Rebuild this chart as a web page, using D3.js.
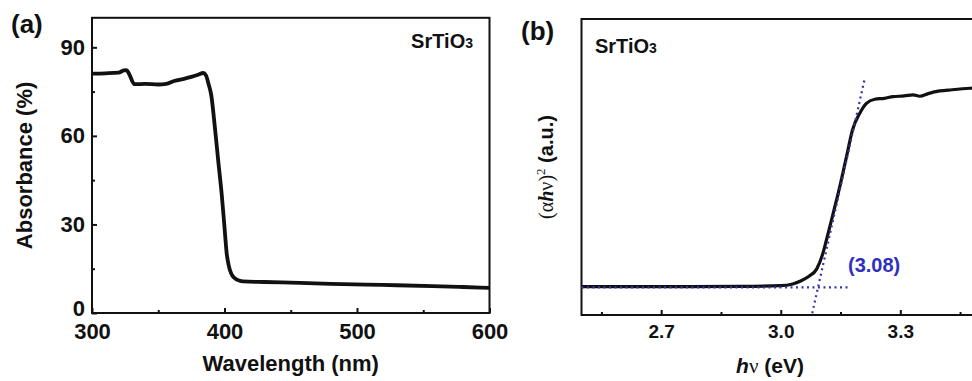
<!DOCTYPE html>
<html>
<head>
<meta charset="utf-8">
<script src="https://cdn.jsdelivr.net/npm/d3@7"></script>
<style>
  body { margin: 0; background: #fff; }
  svg text { font-family: "Liberation Sans", Arial, sans-serif; font-weight: bold; fill: #111; }
  .frame { fill: none; stroke: #111; stroke-width: 2; }
  .tick line { stroke: #111; stroke-width: 2; }
</style>
</head>
<body>
<div id="chart"></div>
<script>
// panel (a) - UV-vis absorbance
var wavelength = [300, 310, 320, 324, 326, 328, 332, 340, 350, 356, 362, 370, 375, 380, 384, 386, 388, 390, 392.8, 395.3,
                  397.9, 400, 401.7, 403, 404.2, 406, 408, 411, 414, 430, 457, 480, 507, 530, 557, 580, 600];
var absorbance = [81.1, 81.2, 81.4, 82.2, 82.3, 81, 77.5, 77.6, 77.4, 77.6, 78.6, 79.4, 80, 80.7, 81.3, 80.5, 77.5, 73.8, 62.6, 51.4,
                  40.2, 29, 20, 16.5, 14.4, 12.6, 11.7, 11, 10.7, 10.5, 10.2, 9.9, 9.6, 9.4, 9.1, 8.8, 8.5];
var wlTicks = [300, 400, 500, 600];
var wlMinor = [350, 450, 550];
var absTicks = [0, 30, 60, 90];
var absMinor = [15, 45, 75];

// panel (b) - Tauc plot
var photonEnergy = [2.50, 2.70, 2.90, 3.00, 3.03, 3.05, 3.07, 3.09, 3.105, 3.115, 3.13, 3.148, 3.165, 3.18, 3.198, 3.215,
                    3.236, 3.26, 3.282, 3.31, 3.332, 3.349, 3.37, 3.399, 3.43, 3.475, 3.5];
var ahv2 = [9.6, 9.6, 9.7, 9.9, 10.5, 11.5, 13, 15.5, 20.5, 25.5, 33.5, 43.3, 53.5, 62.5, 68.1, 71.5,
            72.9, 73.2, 73.8, 74.0, 74.4, 73.9, 74.8, 75.7, 76.1, 76.6, 76.8];
var hvTicks = [2.7, 3.0, 3.3];
var hvMinor = [2.55, 2.85, 3.15, 3.45];
// fitted lines (dotted)
var baseFitX = [2.5, 3.17], baseFitY = [9.3, 9.3];
var edgeFitX = [3.079, 3.211], edgeFitY = [0.6, 80];
var bandGap = "(3.08)";

var svg = d3.select("#chart").append("svg")
    .attr("width", 972)
    .attr("height", 381);

// ---------- panel (a) ----------
var xa = d3.scaleLinear().domain([300, 600]).range([92, 489.5]);
var ya = d3.scaleLinear().domain([0, 100]).range([313, 17.8]);

svg.append("g")
    .attr("transform", "translate(0," + ya(0) + ")")
    .call(d3.axisBottom(xa).tickValues(wlTicks).tickSize(-5).tickPadding(10).tickFormat(d3.format("d")))
    .call(function(g) { g.select(".domain").remove(); g.selectAll("text").style("font-size", "22px"); });

svg.append("g")
    .attr("transform", "translate(0," + ya(0) + ")")
    .call(d3.axisBottom(xa).tickValues(wlMinor).tickSize(-3).tickFormat(""))
    .call(function(g) { g.select(".domain").remove(); });

svg.append("g")
    .attr("transform", "translate(" + xa(300) + ",0)")
    .call(d3.axisLeft(ya).tickValues(absTicks).tickSize(-5).tickPadding(7).tickFormat(d3.format("d")))
    .call(function(g) {
        g.select(".domain").remove();
        g.selectAll("text").style("font-size", "22px");
        // lift the 0 a little so it sits above the 300
        g.selectAll("text").filter(function(d) { return d === 0; }).attr("dy", "0.1em");
    });

svg.append("g")
    .attr("transform", "translate(" + xa(300) + ",0)")
    .call(d3.axisLeft(ya).tickValues(absMinor).tickSize(-3).tickFormat(""))
    .call(function(g) { g.select(".domain").remove(); });

svg.append("rect").attr("class", "frame")
    .attr("x", xa(300)).attr("y", ya(100))
    .attr("width", xa(600) - xa(300)).attr("height", ya(0) - ya(100));

var lineA = d3.line()
    .x(function(d, i) { return xa(wavelength[i]); })
    .y(function(d) { return ya(d); })
    .curve(d3.curveMonotoneX);

svg.append("path")
    .datum(absorbance)
    .attr("d", lineA)
    .attr("fill", "none")
    .attr("stroke", "#111")
    .attr("stroke-width", 3.8)
    .attr("stroke-linejoin", "round");

svg.append("text").attr("x", 11).attr("y", 33).style("font-size", "26px").text("(a)");

var sa = svg.append("text").attr("x", 473).attr("y", 47.5).attr("text-anchor", "end").style("font-size", "20px");
sa.append("tspan").text("SrTiO");
sa.append("tspan").style("font-size", "14px").text("3");

svg.append("text")
    .attr("x", (xa(300) + xa(600)) / 2).attr("y", 371)
    .attr("text-anchor", "middle").style("font-size", "22px")
    .text("Wavelength (nm)");

svg.append("text")
    .attr("transform", "translate(32," + (ya(0) + ya(100)) / 2 + ") rotate(-90)")
    .attr("text-anchor", "middle").style("font-size", "22px")
    .text("Absorbance (%)");

// ---------- panel (b) ----------
var xb = d3.scaleLinear().domain([2.5, 3.5]).range([581.5, 980]);
var yb = d3.scaleLinear().domain([0, 100]).range([315, 19]);

svg.append("g")
    .attr("transform", "translate(0," + yb(0) + ")")
    .call(d3.axisBottom(xb).tickValues(hvTicks).tickSize(-5).tickPadding(10).tickFormat(d3.format(".1f")))
    .call(function(g) { g.select(".domain").remove(); g.selectAll("text").style("font-size", "19px"); });

svg.append("g")
    .attr("transform", "translate(0," + yb(0) + ")")
    .call(d3.axisBottom(xb).tickValues(hvMinor).tickSize(-3).tickFormat(""))
    .call(function(g) { g.select(".domain").remove(); });

svg.append("rect").attr("class", "frame")
    .attr("x", xb(2.5)).attr("y", yb(100))
    .attr("width", xb(3.5) - xb(2.5)).attr("height", yb(0) - yb(100));

var lineB = d3.line()
    .x(function(d, i) { return xb(photonEnergy[i]); })
    .y(function(d) { return yb(d); })
    .curve(d3.curveMonotoneX);

svg.append("path")
    .datum(ahv2)
    .attr("d", lineB)
    .attr("fill", "none")
    .attr("stroke", "#111")
    .attr("stroke-width", 3.2)
    .attr("stroke-linejoin", "round");

var fitLine = d3.line()
    .x(function(d) { return xb(d[0]); })
    .y(function(d) { return yb(d[1]); });

[[baseFitX, baseFitY], [edgeFitX, edgeFitY]].forEach(function(f) {
    svg.append("path")
        .datum(d3.zip(f[0], f[1]))
        .attr("d", fitLine)
        .attr("fill", "none")
        .attr("stroke", "#3535a8")
        .attr("stroke-width", 2.2)
        .attr("stroke-dasharray", "2,3.5");
});

svg.append("text").attr("x", 848).attr("y", 272)
    .style("font-size", "20px").style("fill", "#2f2fc0")
    .text(bandGap);

svg.append("text").attr("x", 521).attr("y", 40).style("font-size", "26px").text("(b)");

var sb = svg.append("text").attr("x", 595).attr("y", 52.5).style("font-size", "20px");
sb.append("tspan").text("SrTiO");
sb.append("tspan").style("font-size", "14px").text("3");

var xl = svg.append("text")
    .attr("x", 770).attr("y", 373)
    .attr("text-anchor", "middle").style("font-size", "21px");
xl.append("tspan").style("font-style", "italic").text("h");
xl.append("tspan").style("font-family", "'Liberation Serif', serif").style("font-weight", "normal").text("\u03bd");
xl.append("tspan").text(" (eV)");

var yl = svg.append("text")
    .attr("transform", "translate(553," + (yb(0) + yb(100)) / 2 + ") rotate(-90)")
    .attr("text-anchor", "middle").style("font-size", "20px");
yl.append("tspan").style("font-family", "'Liberation Serif', serif").style("font-weight", "normal").text("(\u03b1");
yl.append("tspan").style("font-family", "'Liberation Serif', serif").style("font-style", "italic").text("h");
yl.append("tspan").style("font-family", "'Liberation Serif', serif").style("font-weight", "normal").text("\u03bd)");
yl.append("tspan").style("font-family", "'Liberation Serif', serif").style("font-weight", "normal")
    .style("font-size", "13px").attr("dy", -8).text("2");
yl.append("tspan").attr("dy", 8).text(" (a.u.)");
</script>
</body>
</html>
